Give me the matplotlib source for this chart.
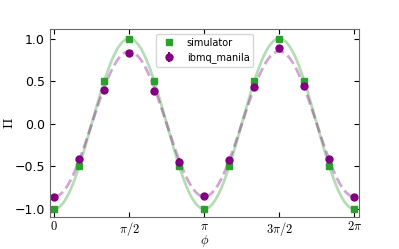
import numpy as np
import matplotlib
matplotlib.use("Agg")
import matplotlib.pyplot as plt

plt.rcParams['mathtext.fontset'] = 'cm'
plt.rcParams['font.size'] = 9

# data points at phi = k*pi/6
k_steps = np.arange(13)
simulator = [-1.0, -0.5, 0.5, 1.0, 0.5, -0.5, -1.0, -0.5, 0.5, 1.0, 0.5, -0.5, -1.0]
manila = [-0.865, -0.415, 0.40, 0.833, 0.387, -0.446, -0.849, -0.426, 0.43, 0.884, 0.446, -0.41, -0.865]
manila_err = [0.03, 0.04, 0.03, 0.03, 0.03, 0.04, 0.03, 0.03, 0.03, 0.03, 0.03, 0.03, 0.03]

phi = k_steps * np.pi / 6
phi_fine = np.linspace(0, 2 * np.pi, 400)

# least squares fit A*cos(2phi) + B for both series
def fit_curve(y):
    M = np.column_stack([np.cos(2 * phi), np.ones_like(phi)])
    coef = np.linalg.lstsq(M, np.array(y), rcond=None)[0]
    return coef[0] * np.cos(2 * phi_fine) + coef[1]

fig, ax = plt.subplots(figsize=(3.99, 2.49), dpi=100)
fig.subplots_adjust(left=0.125, right=0.9, top=0.884, bottom=0.129)

ax.plot(phi_fine, fit_curve(simulator), color='tab:green', alpha=0.35, lw=2)
ax.plot(phi_fine, fit_curve(manila), color='purple', alpha=0.35, lw=2, ls='--')
ax.plot(phi, simulator, 's', color='tab:green', ms=5, label='simulator')
ax.errorbar(phi, manila, yerr=manila_err, fmt='o', color='purple', ms=5, label='ibmq_manila')

ax.set_xticks([0, np.pi / 2, np.pi, 3 * np.pi / 2, 2 * np.pi])
ax.set_xticklabels(['$0$', r'$\pi/2$', r'$\pi$', r'$3\pi/2$', r'$2\pi$'])
ax.set_yticks([-1.0, -0.5, 0.0, 0.5, 1.0])
ax.set_xlim(-0.09, 2 * np.pi + 0.1)
ax.set_ylim(-1.094, 1.114)
ax.set_xlabel(r'$\phi$')
ax.set_ylabel(r'$\Pi$', fontsize=10)
ax.xaxis.set_label_coords(0.5, -0.085)
ax.yaxis.set_label_coords(-0.108, 0.5)
ax.tick_params(direction='in', top=True, right=True, labeltop=False, labelright=False)
ax.tick_params(axis='x', pad=2)
for s in ax.spines.values():
    s.set_color('dimgray')

ax.legend(loc='upper center', fontsize=7)
plt.savefig('out.png', dpi=100)
